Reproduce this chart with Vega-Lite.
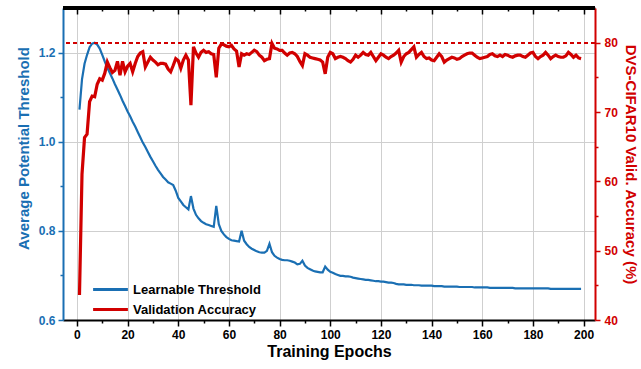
{
"$schema": "https://vega.github.io/schema/vega-lite/v6.json",
"width": 532, "height": 312,
"autosize": {"type": "none"},
"padding": {"left": 63, "top": 8, "right": 46, "bottom": 49},
"background": "white",
"config": {"view": {"stroke": null}, "font": "Liberation Sans"},
"data": {"values": [
{"epoch":1,"threshold":1.072,"accuracy":43.6},{"epoch":2,"threshold":1.14,"accuracy":61.0},{"epoch":3,"threshold":1.175,"accuracy":66.3},{"epoch":4,"threshold":1.195,"accuracy":66.8},{"epoch":5,"threshold":1.212,"accuracy":71.5},{"epoch":6,"threshold":1.22,"accuracy":72.3},{"epoch":7,"threshold":1.222,"accuracy":72.2},{"epoch":8,"threshold":1.218,"accuracy":74.0},{"epoch":9,"threshold":1.209,"accuracy":74.8},{"epoch":10,"threshold":1.195,"accuracy":74.6},
{"epoch":11,"threshold":1.18,"accuracy":75.6},{"epoch":12,"threshold":1.166,"accuracy":77.2},{"epoch":13,"threshold":1.154,"accuracy":76.4},{"epoch":14,"threshold":1.142,"accuracy":75.7},{"epoch":15,"threshold":1.129,"accuracy":76.0},{"epoch":16,"threshold":1.117,"accuracy":77.3},{"epoch":17,"threshold":1.105,"accuracy":75.3},{"epoch":18,"threshold":1.092,"accuracy":77.3},{"epoch":19,"threshold":1.08,"accuracy":75.8},{"epoch":20,"threshold":1.068,"accuracy":76.6},
{"epoch":21,"threshold":1.057,"accuracy":77.0},{"epoch":22,"threshold":1.045,"accuracy":75.8},{"epoch":23,"threshold":1.034,"accuracy":77.0},{"epoch":24,"threshold":1.022,"accuracy":78.0},{"epoch":25,"threshold":1.01,"accuracy":78.5},{"epoch":26,"threshold":0.998,"accuracy":78.7},{"epoch":27,"threshold":0.988,"accuracy":76.5},{"epoch":28,"threshold":0.977,"accuracy":77.2},{"epoch":29,"threshold":0.966,"accuracy":77.9},{"epoch":30,"threshold":0.956,"accuracy":77.5},
{"epoch":31,"threshold":0.946,"accuracy":77.2},{"epoch":32,"threshold":0.937,"accuracy":76.8},{"epoch":33,"threshold":0.929,"accuracy":77.0},{"epoch":34,"threshold":0.921,"accuracy":77.0},{"epoch":35,"threshold":0.915,"accuracy":76.9},{"epoch":36,"threshold":0.909,"accuracy":76.2},{"epoch":37,"threshold":0.906,"accuracy":75.8},{"epoch":38,"threshold":0.903,"accuracy":76.7},{"epoch":39,"threshold":0.89,"accuracy":77.7},{"epoch":40,"threshold":0.874,"accuracy":77.4},
{"epoch":41,"threshold":0.866,"accuracy":76.3},{"epoch":42,"threshold":0.858,"accuracy":77.5},{"epoch":43,"threshold":0.853,"accuracy":78.2},{"epoch":44,"threshold":0.848,"accuracy":77.5},{"epoch":45,"threshold":0.878,"accuracy":71.0},{"epoch":46,"threshold":0.85,"accuracy":79.4},{"epoch":47,"threshold":0.836,"accuracy":78.5},{"epoch":48,"threshold":0.828,"accuracy":77.9},{"epoch":49,"threshold":0.822,"accuracy":78.6},{"epoch":50,"threshold":0.818,"accuracy":78.9},
{"epoch":51,"threshold":0.815,"accuracy":78.6},{"epoch":52,"threshold":0.813,"accuracy":78.7},{"epoch":53,"threshold":0.811,"accuracy":78.4},{"epoch":54,"threshold":0.809,"accuracy":78.3},{"epoch":55,"threshold":0.856,"accuracy":75.0},{"epoch":56,"threshold":0.815,"accuracy":79.2},{"epoch":57,"threshold":0.8,"accuracy":79.8},{"epoch":58,"threshold":0.792,"accuracy":79.7},{"epoch":59,"threshold":0.786,"accuracy":79.5},{"epoch":60,"threshold":0.782,"accuracy":79.4},
{"epoch":61,"threshold":0.779,"accuracy":79.6},{"epoch":62,"threshold":0.778,"accuracy":79.1},{"epoch":63,"threshold":0.777,"accuracy":78.8},{"epoch":64,"threshold":0.776,"accuracy":76.5},{"epoch":65,"threshold":0.8,"accuracy":78.4},{"epoch":66,"threshold":0.778,"accuracy":78.2},{"epoch":67,"threshold":0.77,"accuracy":78.4},{"epoch":68,"threshold":0.764,"accuracy":78.3},{"epoch":69,"threshold":0.76,"accuracy":78.6},{"epoch":70,"threshold":0.757,"accuracy":78.9},
{"epoch":71,"threshold":0.754,"accuracy":78.7},{"epoch":72,"threshold":0.752,"accuracy":78.2},{"epoch":73,"threshold":0.751,"accuracy":77.9},{"epoch":74,"threshold":0.751,"accuracy":77.4},{"epoch":75,"threshold":0.755,"accuracy":77.6},{"epoch":76,"threshold":0.771,"accuracy":77.7},{"epoch":77,"threshold":0.752,"accuracy":79.9},{"epoch":78,"threshold":0.744,"accuracy":79.2},{"epoch":79,"threshold":0.74,"accuracy":79.1},{"epoch":80,"threshold":0.737,"accuracy":78.9},
{"epoch":81,"threshold":0.735,"accuracy":78.9},{"epoch":82,"threshold":0.734,"accuracy":78.5},{"epoch":83,"threshold":0.734,"accuracy":78.2},{"epoch":84,"threshold":0.733,"accuracy":78.5},{"epoch":85,"threshold":0.731,"accuracy":78.6},{"epoch":86,"threshold":0.729,"accuracy":78.4},{"epoch":87,"threshold":0.725,"accuracy":78.0},{"epoch":88,"threshold":0.726,"accuracy":77.3},{"epoch":89,"threshold":0.733,"accuracy":76.7},{"epoch":90,"threshold":0.722,"accuracy":78.4},
{"epoch":91,"threshold":0.717,"accuracy":78.2},{"epoch":92,"threshold":0.714,"accuracy":77.9},{"epoch":93,"threshold":0.711,"accuracy":77.8},{"epoch":94,"threshold":0.709,"accuracy":77.7},{"epoch":95,"threshold":0.708,"accuracy":77.6},{"epoch":96,"threshold":0.707,"accuracy":77.5},{"epoch":97,"threshold":0.707,"accuracy":77.2},{"epoch":98,"threshold":0.72,"accuracy":75.5},{"epoch":99,"threshold":0.713,"accuracy":77.9},{"epoch":100,"threshold":0.708,"accuracy":78.6},
{"epoch":101,"threshold":0.706,"accuracy":78.4},{"epoch":102,"threshold":0.703,"accuracy":77.7},{"epoch":103,"threshold":0.701,"accuracy":77.9},{"epoch":104,"threshold":0.699,"accuracy":78.0},{"epoch":105,"threshold":0.699,"accuracy":77.9},{"epoch":106,"threshold":0.698,"accuracy":77.7},{"epoch":107,"threshold":0.698,"accuracy":77.4},{"epoch":108,"threshold":0.697,"accuracy":77.2},{"epoch":109,"threshold":0.695,"accuracy":77.6},{"epoch":110,"threshold":0.694,"accuracy":78.2},
{"epoch":111,"threshold":0.693,"accuracy":77.9},{"epoch":112,"threshold":0.692,"accuracy":78.2},{"epoch":113,"threshold":0.691,"accuracy":78.6},{"epoch":114,"threshold":0.69,"accuracy":78.3},{"epoch":115,"threshold":0.69,"accuracy":78.2},{"epoch":116,"threshold":0.689,"accuracy":78.6},{"epoch":117,"threshold":0.688,"accuracy":78.0},{"epoch":118,"threshold":0.687,"accuracy":77.4},{"epoch":119,"threshold":0.687,"accuracy":77.9},{"epoch":120,"threshold":0.686,"accuracy":78.4},
{"epoch":121,"threshold":0.686,"accuracy":78.2},{"epoch":122,"threshold":0.685,"accuracy":77.9},{"epoch":123,"threshold":0.684,"accuracy":77.7},{"epoch":124,"threshold":0.684,"accuracy":78.0},{"epoch":125,"threshold":0.683,"accuracy":78.2},{"epoch":126,"threshold":0.681,"accuracy":78.5},{"epoch":127,"threshold":0.68,"accuracy":78.9},{"epoch":128,"threshold":0.68,"accuracy":77.2},{"epoch":129,"threshold":0.68,"accuracy":78.0},{"epoch":130,"threshold":0.679,"accuracy":78.4},
{"epoch":131,"threshold":0.679,"accuracy":78.6},{"epoch":132,"threshold":0.679,"accuracy":79.0},{"epoch":133,"threshold":0.678,"accuracy":79.4},{"epoch":134,"threshold":0.678,"accuracy":77.9},{"epoch":135,"threshold":0.678,"accuracy":78.3},{"epoch":136,"threshold":0.677,"accuracy":78.6},{"epoch":137,"threshold":0.677,"accuracy":78.0},{"epoch":138,"threshold":0.677,"accuracy":77.7},{"epoch":139,"threshold":0.677,"accuracy":77.8},{"epoch":140,"threshold":0.677,"accuracy":77.5},
{"epoch":141,"threshold":0.676,"accuracy":77.4},{"epoch":142,"threshold":0.676,"accuracy":77.9},{"epoch":143,"threshold":0.676,"accuracy":78.4},{"epoch":144,"threshold":0.676,"accuracy":78.0},{"epoch":145,"threshold":0.675,"accuracy":77.2},{"epoch":146,"threshold":0.675,"accuracy":77.5},{"epoch":147,"threshold":0.675,"accuracy":77.7},{"epoch":148,"threshold":0.675,"accuracy":77.9},{"epoch":149,"threshold":0.675,"accuracy":77.8},{"epoch":150,"threshold":0.675,"accuracy":77.6},
{"epoch":151,"threshold":0.674,"accuracy":77.7},{"epoch":152,"threshold":0.674,"accuracy":78.0},{"epoch":153,"threshold":0.674,"accuracy":78.2},{"epoch":154,"threshold":0.674,"accuracy":78.4},{"epoch":155,"threshold":0.674,"accuracy":78.5},{"epoch":156,"threshold":0.674,"accuracy":78.5},{"epoch":157,"threshold":0.673,"accuracy":78.2},{"epoch":158,"threshold":0.673,"accuracy":77.9},{"epoch":159,"threshold":0.673,"accuracy":77.7},{"epoch":160,"threshold":0.673,"accuracy":77.8},
{"epoch":161,"threshold":0.673,"accuracy":77.9},{"epoch":162,"threshold":0.673,"accuracy":78.0},{"epoch":163,"threshold":0.672,"accuracy":78.3},{"epoch":164,"threshold":0.672,"accuracy":78.4},{"epoch":165,"threshold":0.672,"accuracy":78.1},{"epoch":166,"threshold":0.672,"accuracy":78.0},{"epoch":167,"threshold":0.672,"accuracy":78.2},{"epoch":168,"threshold":0.672,"accuracy":78.0},{"epoch":169,"threshold":0.672,"accuracy":78.3},{"epoch":170,"threshold":0.672,"accuracy":78.2},
{"epoch":171,"threshold":0.672,"accuracy":78.0},{"epoch":172,"threshold":0.672,"accuracy":77.9},{"epoch":173,"threshold":0.671,"accuracy":78.1},{"epoch":174,"threshold":0.671,"accuracy":78.2},{"epoch":175,"threshold":0.671,"accuracy":78.2},{"epoch":176,"threshold":0.671,"accuracy":78.0},{"epoch":177,"threshold":0.671,"accuracy":77.9},{"epoch":178,"threshold":0.671,"accuracy":78.2},{"epoch":179,"threshold":0.671,"accuracy":78.5},{"epoch":180,"threshold":0.671,"accuracy":78.6},
{"epoch":181,"threshold":0.671,"accuracy":78.0},{"epoch":182,"threshold":0.671,"accuracy":77.7},{"epoch":183,"threshold":0.671,"accuracy":78.0},{"epoch":184,"threshold":0.671,"accuracy":78.2},{"epoch":185,"threshold":0.671,"accuracy":78.6},{"epoch":186,"threshold":0.671,"accuracy":78.2},{"epoch":187,"threshold":0.67,"accuracy":77.7},{"epoch":188,"threshold":0.67,"accuracy":78.0},{"epoch":189,"threshold":0.67,"accuracy":78.2},{"epoch":190,"threshold":0.67,"accuracy":78.0},
{"epoch":191,"threshold":0.67,"accuracy":77.9},{"epoch":192,"threshold":0.67,"accuracy":77.9},{"epoch":193,"threshold":0.67,"accuracy":78.1},{"epoch":194,"threshold":0.67,"accuracy":78.6},{"epoch":195,"threshold":0.67,"accuracy":78.3},{"epoch":196,"threshold":0.67,"accuracy":77.9},{"epoch":197,"threshold":0.67,"accuracy":78.2},{"epoch":198,"threshold":0.67,"accuracy":77.8},{"epoch":199,"threshold":0.67,"accuracy":77.7}
]},
"layer": [
{
"mark": {"type": "line", "strokeWidth": 2.2},
"encoding": {
"x": {"field": "epoch", "type": "quantitative",
"scale": {"domain": [-5.5, 204.5], "nice": false, "zero": false},
"axis": {"orient": "bottom", "values": [0,10,20,30,40,50,60,70,80,90,100,110,120,130,140,150,160,170,180,190,200],
"labelExpr": "datum.value % 20 === 0 ? datum.label : ''",
"title": "Training Epochs", "domainColor": "black", "domainWidth": 2,
"tickColor": "black", "tickWidth": 1.5,
"tickSize": {"condition": {"test": "datum.value % 20 === 0", "value": 6}, "value": 3},
"grid": true, "gridColor": "#cfcfcf", "gridWidth": 1,
"gridOpacity": {"condition": {"test": "datum.value % 20 === 0", "value": 1}, "value": 0},
"labelFontSize": 12, "labelFontWeight": "bold", "labelColor": "black", "labelPadding": 3,
"labelFlush": false, "labelOverlap": false,
"titleFontSize": 16, "titleFontWeight": "bold", "titleColor": "black", "titlePadding": 3}},
"y": {"field": "threshold", "type": "quantitative",
"scale": {"domain": [0.6, 1.3], "nice": false, "zero": false},
"axis": {"orient": "left", "values": [0.6,0.7,0.8,0.9,1.0,1.1,1.2],
"labelExpr": "round(datum.value*10) % 2 === 0 ? format(datum.value, '.1f') : ''",
"title": "Average Potential Threshold", "domainColor": "#1a6fb3", "domainWidth": 2,
"tickColor": "#1a6fb3", "tickWidth": 1.5,
"tickSize": {"condition": {"test": "round(datum.value*10) % 2 === 0", "value": 5}, "value": 3},
"grid": true, "gridColor": "#cfcfcf", "gridWidth": 1,
"gridOpacity": {"condition": {"test": "round(datum.value*10) % 2 === 0", "value": 1}, "value": 0},
"labelFontSize": 12, "labelFontWeight": "bold", "labelColor": "#1a6fb3", "labelPadding": 3,
"labelFlush": false, "labelOverlap": false,
"titleFontSize": 15, "titleFontWeight": "bold", "titleColor": "#1a6fb3", "titlePadding": 7, "titleY": 140}},
"color": {"datum": "Learnable Threshold", "type": "nominal",
"scale": {"domain": ["Learnable Threshold", "Validation Accuracy"], "range": ["#1a6fb3", "#d10000"]},
"legend": {"orient": "none", "legendX": 40, "legendY": 274, "title": null,
"symbolType": "M-2.9,0H2.9", "symbolSize": 144, "symbolStrokeWidth": 3,
"labelFontSize": 13, "labelFontWeight": "bold", "labelColor": "black", "labelOffset": 15,
"padding": 0, "rowPadding": 5}}
}
},
{
"mark": {"type": "line", "strokeWidth": 3.2},
"encoding": {
"x": {"field": "epoch", "type": "quantitative",
"scale": {"domain": [-5.5, 204.5], "nice": false, "zero": false},
"axis": {"orient": "top", "values": [0,10,20,30,40,50,60,70,80,90,100,110,120,130,140,150,160,170,180,190,200],
"labels": false, "title": null, "domainColor": "black", "domainWidth": 2,
"tickColor": "black", "tickWidth": 1.5,
"tickSize": {"condition": {"test": "datum.value % 20 === 0", "value": -6}, "value": -3},
"grid": false}},
"y": {"field": "accuracy", "type": "quantitative",
"scale": {"domain": [40, 85], "nice": false, "zero": false},
"axis": {"orient": "right", "values": [40,45,50,55,60,65,70,75,80],
"labelExpr": "datum.value % 10 === 0 ? datum.label : ''",
"title": "DVS-CIFAR10 Valid. Accuracy (%)", "domainColor": "#d10000", "domainWidth": 2,
"tickColor": "#d10000", "tickWidth": 1.5,
"tickSize": {"condition": {"test": "datum.value % 10 === 0", "value": 5}, "value": 3},
"grid": false,
"labelFontSize": 12, "labelFontWeight": "bold", "labelColor": "#d10000", "labelPadding": 4,
"labelFlush": false, "labelOverlap": false,
"titleFontSize": 15, "titleFontWeight": "bold", "titleColor": "#d10000", "titlePadding": 5}},
"color": {"datum": "Validation Accuracy", "type": "nominal"}
}
},
{
"mark": {"type": "rule", "strokeDash": [4, 3], "strokeWidth": 1.5, "color": "#d10000"},
"encoding": {"y": {"datum": 80, "type": "quantitative", "scale": {"domain": [40, 85], "nice": false, "zero": false}, "axis": null}}
},
{
"mark": {"type": "rule", "strokeWidth": 2.5, "color": "black"},
"encoding": {"y": {"datum": 1.3, "type": "quantitative", "scale": {"domain": [0.6, 1.3], "nice": false, "zero": false}, "axis": null}}
}
],
"resolve": {"scale": {"x": "independent", "y": "independent"}, "axis": {"x": "independent", "y": "independent"}}
}
